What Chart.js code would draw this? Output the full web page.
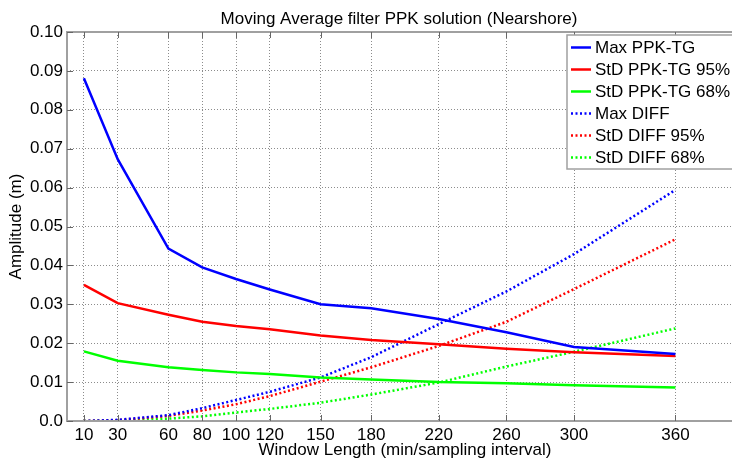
<!DOCTYPE html>
<html>
<head>
<meta charset="utf-8">
<title>Moving Average filter PPK solution (Nearshore)</title>
<script src="https://cdn.jsdelivr.net/npm/chart.js@4.4.1/dist/chart.umd.min.js"></script>
<style>
    html, body { margin: 0; padding: 0; background: #fff; overflow: hidden; }
    #wrap { width: 732px; height: 461px; overflow: hidden; }
</style>
</head>
<body>
<div id="wrap"><canvas id="maChart" width="760" height="461"></canvas></div>
<script>
// window lengths (min / sampling interval)
const windowLengths = [10, 30, 60, 80, 100, 120, 150, 180, 220, 260, 300, 360];

// amplitudes (m)
const maxPpkTg   = [0.0881, 0.0673, 0.0443, 0.0395, 0.0365, 0.0338, 0.0300, 0.0290, 0.0262, 0.0228, 0.0190, 0.0172];
const stdPpkTg95 = [0.0350, 0.0303, 0.0273, 0.0255, 0.0244, 0.0236, 0.0220, 0.0208, 0.0197, 0.0186, 0.0177, 0.0167];
const stdPpkTg68 = [0.0179, 0.0155, 0.0138, 0.0131, 0.0125, 0.0121, 0.0112, 0.0107, 0.0100, 0.0097, 0.0092, 0.0086];
const maxDiff    = [0.0000, 0.0003, 0.0015, 0.0033, 0.0054, 0.0075, 0.0112, 0.0164, 0.0249, 0.0333, 0.0429, 0.0594];
const stdDiff95  = [0.0000, 0.0002, 0.0013, 0.0027, 0.0043, 0.0064, 0.0101, 0.0138, 0.0193, 0.0255, 0.0339, 0.0467];
const stdDiff68  = [0.0000, 0.0001, 0.0006, 0.0012, 0.0022, 0.0031, 0.0047, 0.0068, 0.0099, 0.0140, 0.0178, 0.0238];

const seriesLabels = ["Max PPK-TG", "StD PPK-TG 95%", "StD PPK-TG 68%", "Max DIFF", "StD DIFF 95%", "StD DIFF 68%"];
const yTickValues = [0, 0.01, 0.02, 0.03, 0.04, 0.05, 0.06, 0.07, 0.08, 0.09, 0.10];

const FONT = "'Liberation Sans', Arial, sans-serif";
const AXIS_GRAY = "#a0a0a0";

function toPoints(values) {
    return windowLengths.map((x, i) => ({ x: x, y: values[i] }));
}

function makeDataset(label, values, color, dotted) {
    return {
        label: label,
        data: toPoints(values),
        borderColor: color,
        backgroundColor: color,
        borderWidth: 2.5,
        borderDash: dotted ? [2, 2.5] : [],
        pointRadius: 0,
        fill: false,
        tension: 0
    };
}

// plot title, box frame with inner ticks and the legend
const decorations = {
    id: "decorations",
    afterDraw(chart) {
        const ctx = chart.ctx;
        const area = chart.chartArea;
        const xs = chart.scales.x;
        const ys = chart.scales.y;

        ctx.save();
        ctx.fillStyle = "#000";
        ctx.font = "17px " + FONT;
        ctx.textAlign = "center";
        ctx.textBaseline = "middle";
        ctx.fillText("Moving Average filter PPK solution (Nearshore)", (area.left + area.right) / 2 - 6, 19);

        // frame
        ctx.strokeStyle = AXIS_GRAY;
        ctx.lineWidth = 2;
        ctx.setLineDash([]);
        ctx.strokeRect(area.left, area.top, area.right - area.left, area.bottom - area.top);

        // short inward ticks
        ctx.lineWidth = 1;
        ctx.strokeStyle = "#666";
        ctx.beginPath();
        windowLengths.forEach(v => {
            const px = Math.round(xs.getPixelForValue(v)) + 0.5;
            ctx.moveTo(px, area.bottom);
            ctx.lineTo(px, area.bottom - 6);
            ctx.moveTo(px, area.top);
            ctx.lineTo(px, area.top + 6);
        });
        yTickValues.forEach(v => {
            const py = Math.round(ys.getPixelForValue(v)) + 0.5;
            ctx.moveTo(area.left, py);
            ctx.lineTo(area.left + 6, py);
            ctx.moveTo(area.right, py);
            ctx.lineTo(area.right - 6, py);
        });
        ctx.stroke();

        // legend
        const lx = 567, ly = 35, lw = 210, lh = 134;
        ctx.fillStyle = "#fff";
        ctx.fillRect(lx, ly, lw, lh);
        ctx.strokeStyle = AXIS_GRAY;
        ctx.lineWidth = 1.5;
        ctx.strokeRect(lx, ly, lw, lh);

        ctx.font = "17px " + FONT;
        ctx.textAlign = "left";
        ctx.textBaseline = "middle";
        chart.data.datasets.forEach((ds, i) => {
            const y = Math.round(ly + 12 + i * 22) + 0.5;
            ctx.strokeStyle = ds.borderColor;
            ctx.lineWidth = 2.5;
            ctx.setLineDash(ds.borderDash);
            ctx.beginPath();
            ctx.moveTo(lx + 4, y);
            ctx.lineTo(lx + 24, y);
            ctx.stroke();
            ctx.setLineDash([]);
            ctx.fillStyle = "#000";
            ctx.fillText(ds.label, lx + 28, y + 1);
        });
        ctx.restore();
    }
};

function renderChart() {
    const ctx = document.getElementById("maChart").getContext("2d");

    new Chart(ctx, {
        type: "line",
        data: {
            datasets: [
                makeDataset(seriesLabels[0], maxPpkTg, "#0000ff", false),
                makeDataset(seriesLabels[1], stdPpkTg95, "#ff0000", false),
                makeDataset(seriesLabels[2], stdPpkTg68, "#00ff00", false),
                makeDataset(seriesLabels[3], maxDiff, "#0000ff", true),
                makeDataset(seriesLabels[4], stdDiff95, "#ff0000", true),
                makeDataset(seriesLabels[5], stdDiff68, "#00ff00", true)
            ]
        },
        options: {
            responsive: false,
            animation: false,
            layout: { padding: { top: 32, right: 17, left: 0, bottom: 0 } },
            plugins: {
                legend: { display: false },
                tooltip: { enabled: false },
                title: { display: false }
            },
            scales: {
                x: {
                    type: "linear",
                    min: 0,
                    max: 400,
                    afterFit: s => { s.height = 40; },
                    afterBuildTicks: s => { s.ticks = windowLengths.map(v => ({ value: v })); },
                    grid: {
                        color: "rgba(0,0,0,0.45)",
                        lineWidth: 1,
                        drawTicks: false
                    },
                    border: { display: false, dash: [1, 2] },
                    ticks: {
                        autoSkip: false,
                        maxRotation: 0,
                        padding: 4,
                        color: "#000",
                        font: { family: FONT, size: 17 },
                        callback: v => String(v)
                    },
                    title: {
                        display: true,
                        text: "Window Length (min/sampling interval)",
                        color: "#000",
                        font: { family: FONT, size: 17 },
                        padding: { top: 0, bottom: 0 }
                    }
                },
                y: {
                    min: 0,
                    max: 0.1,
                    afterFit: s => { s.width = 67; },
                    afterBuildTicks: s => { s.ticks = yTickValues.map(v => ({ value: v })); },
                    grid: {
                        color: "rgba(0,0,0,0.45)",
                        lineWidth: 1,
                        drawTicks: false
                    },
                    border: { display: false, dash: [1, 2] },
                    ticks: {
                        padding: 4,
                        color: "#000",
                        font: { family: FONT, size: 17 },
                        callback: v => (v === 0 ? "0.0" : v.toFixed(2))
                    },
                    title: {
                        display: true,
                        text: "Amplitude (m)",
                        color: "#000",
                        font: { family: FONT, size: 17 },
                        padding: { top: 6, bottom: 0 }
                    }
                }
            }
        },
        plugins: [decorations]
    });
}

window.addEventListener("DOMContentLoaded", renderChart);
</script>
</body>
</html>
